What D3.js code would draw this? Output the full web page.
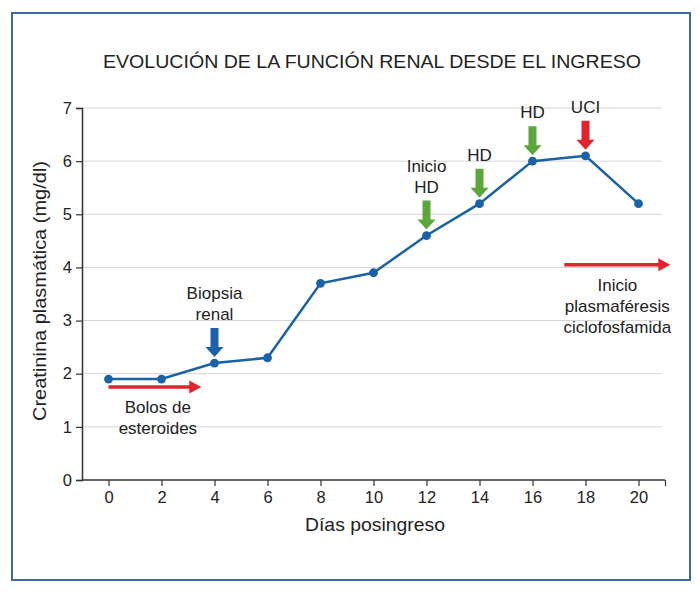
<!DOCTYPE html>
<html><head><meta charset="utf-8">
<script src="https://cdn.jsdelivr.net/npm/d3@7"></script>
<style>body{margin:0;background:#fff;} text{font-family:"Liberation Sans",Arial,sans-serif;fill:#222;}</style>
</head><body>
<svg id="chart" width="700" height="593"></svg>
<script>
const days = [0, 2, 4, 6, 8, 10, 12, 14, 16, 18, 20];
const creatinine = [1.9, 1.9, 2.2, 2.3, 3.7, 3.9, 4.6, 5.2, 6.0, 6.1, 5.2];
const xTicks = [0, 2, 4, 6, 8, 10, 12, 14, 16, 18, 20];
const yTicks = [0, 1, 2, 3, 4, 5, 6, 7];
const downArrowDays = [4, 12, 14, 16, 18];
const downArrowLabels = [["Biopsia", "renal"], ["Inicio", "HD"], ["HD"], ["HD"], ["UCI"]];
const downArrowKinds = ["blue", "green", "green", "green", "red"];
const hArrowStart = [0, 17.2];
const hArrowEnd = [3.5, 21.2];
const hArrowLevel = [1.75, 4.05];
const hArrowLabels = [["Bolos de", "esteroides"], ["Inicio", "plasmaféresis", "ciclofosfamida"]];
const title = "EVOLUCIÓN DE LA FUNCIÓN RENAL DESDE EL INGRESO";
const xLabel = "Días posingreso";
const yLabel = "Creatinina plasmática (mg/dl)";

const colors = {blue: "#1a62a8", green: "#5ca73a", red: "#e3232c"};
const svg = d3.select("#chart");

// frame
svg.append("rect").attr("x", 12).attr("y", 13).attr("width", 678).attr("height", 567)
  .attr("fill", "none").attr("stroke", "#3f6b94").attr("stroke-width", 2);

const x = d3.scaleLinear().domain([-1, 21]).range([82, 665]);
const y = d3.scaleLinear().domain([0, 7]).range([480, 108]);

// grid
svg.append("g").selectAll("line").data(yTicks.filter(d => d > 0)).join("line")
  .attr("x1", x(-1)).attr("x2", 662).attr("y1", d => y(d)).attr("y2", d => y(d))
  .attr("stroke", "#d4d4d4").attr("stroke-width", 1);

// axes
const yAxis = svg.append("g").attr("transform", `translate(${x(-1)},0)`)
  .call(d3.axisLeft(y).tickValues(yTicks).tickSize(6).tickPadding(4).tickFormat(d3.format("d")));
const xAxis = svg.append("g").attr("transform", `translate(0,${y(0)})`)
  .call(d3.axisBottom(x).tickValues(xTicks.concat([21])).tickSize(6).tickPadding(5)
    .tickFormat(d => d === 21 ? "" : d));
[yAxis, xAxis].forEach(a => {
  a.select(".domain").attr("stroke", "#333").attr("stroke-width", 1.5);
  a.selectAll(".tick line").attr("stroke", "#333").attr("stroke-width", 1.2);
  a.selectAll("text").style("font-family", "Liberation Sans, Arial, sans-serif")
    .style("font-size", "16.5px").attr("fill", "#333");
});
xAxis.select(".domain").attr("d", `M${x(-1)},0H${x(21)}`);

// title & labels
svg.append("text").attr("x", 372).attr("y", 68).attr("text-anchor", "middle")
  .style("font-size", "18.5px").attr("textLength", 538).attr("lengthAdjust", "spacingAndGlyphs").text(title);
svg.append("text").attr("x", 375).attr("y", 531).attr("text-anchor", "middle")
  .style("font-size", "18.5px").attr("textLength", 140).attr("lengthAdjust", "spacingAndGlyphs").text(xLabel);
svg.append("text").attr("transform", "translate(46,291) rotate(-90)").attr("text-anchor", "middle")
  .style("font-size", "19px").attr("textLength", 260).attr("lengthAdjust", "spacingAndGlyphs").text(yLabel);

// line & points
const pts = days.map((d, i) => [d, creatinine[i]]);
svg.append("path").datum(pts)
  .attr("d", d3.line().x(d => x(d[0])).y(d => y(d[1])))
  .attr("fill", "none").attr("stroke", colors.blue).attr("stroke-width", 2.5);
svg.append("g").selectAll("circle").data(pts).join("circle")
  .attr("cx", d => x(d[0])).attr("cy", d => y(d[1])).attr("r", 4.4).attr("fill", colors.blue);

// down arrows
downArrowDays.forEach((d, i) => {
  const v = creatinine[days.indexOf(d)];
  const cx = x(d), tip = y(v) - 6;
  const top = tip - 29, headY = tip - 10, sw = 4, hw = 9;
  svg.append("path")
    .attr("d", `M${cx - sw},${top}H${cx + sw}V${headY}H${cx + hw}L${cx},${tip}L${cx - hw},${headY}H${cx - sw}Z`)
    .attr("fill", colors[downArrowKinds[i]]);
  const lines = downArrowLabels[i];
  lines.forEach((t, j) => {
    svg.append("text").attr("x", cx).attr("y", top - 8 - (lines.length - 1 - j) * 21)
      .attr("text-anchor", "middle").style("font-size", "17px").text(t);
  });
});

// horizontal arrows
hArrowStart.forEach((s, i) => {
  const yy = y(hArrowLevel[i]), x0 = x(s), x1 = x(hArrowEnd[i]);
  svg.append("line").attr("x1", x0).attr("x2", x1 - 10).attr("y1", yy).attr("y2", yy)
    .attr("stroke", colors.red).attr("stroke-width", 3.5);
  svg.append("path").attr("d", `M${x1 - 12},${yy - 6.5}L${x1},${yy}L${x1 - 12},${yy + 6.5}Z`)
    .attr("fill", colors.red);
  const cx = (x0 + x1) / 2 + (i === 0 ? 3 : 0);
  hArrowLabels[i].forEach((t, j) => {
    svg.append("text").attr("x", cx).attr("y", yy + 26 + j * 21)
      .attr("text-anchor", "middle").style("font-size", "17px").text(t);
  });
});
</script>
</body></html>
